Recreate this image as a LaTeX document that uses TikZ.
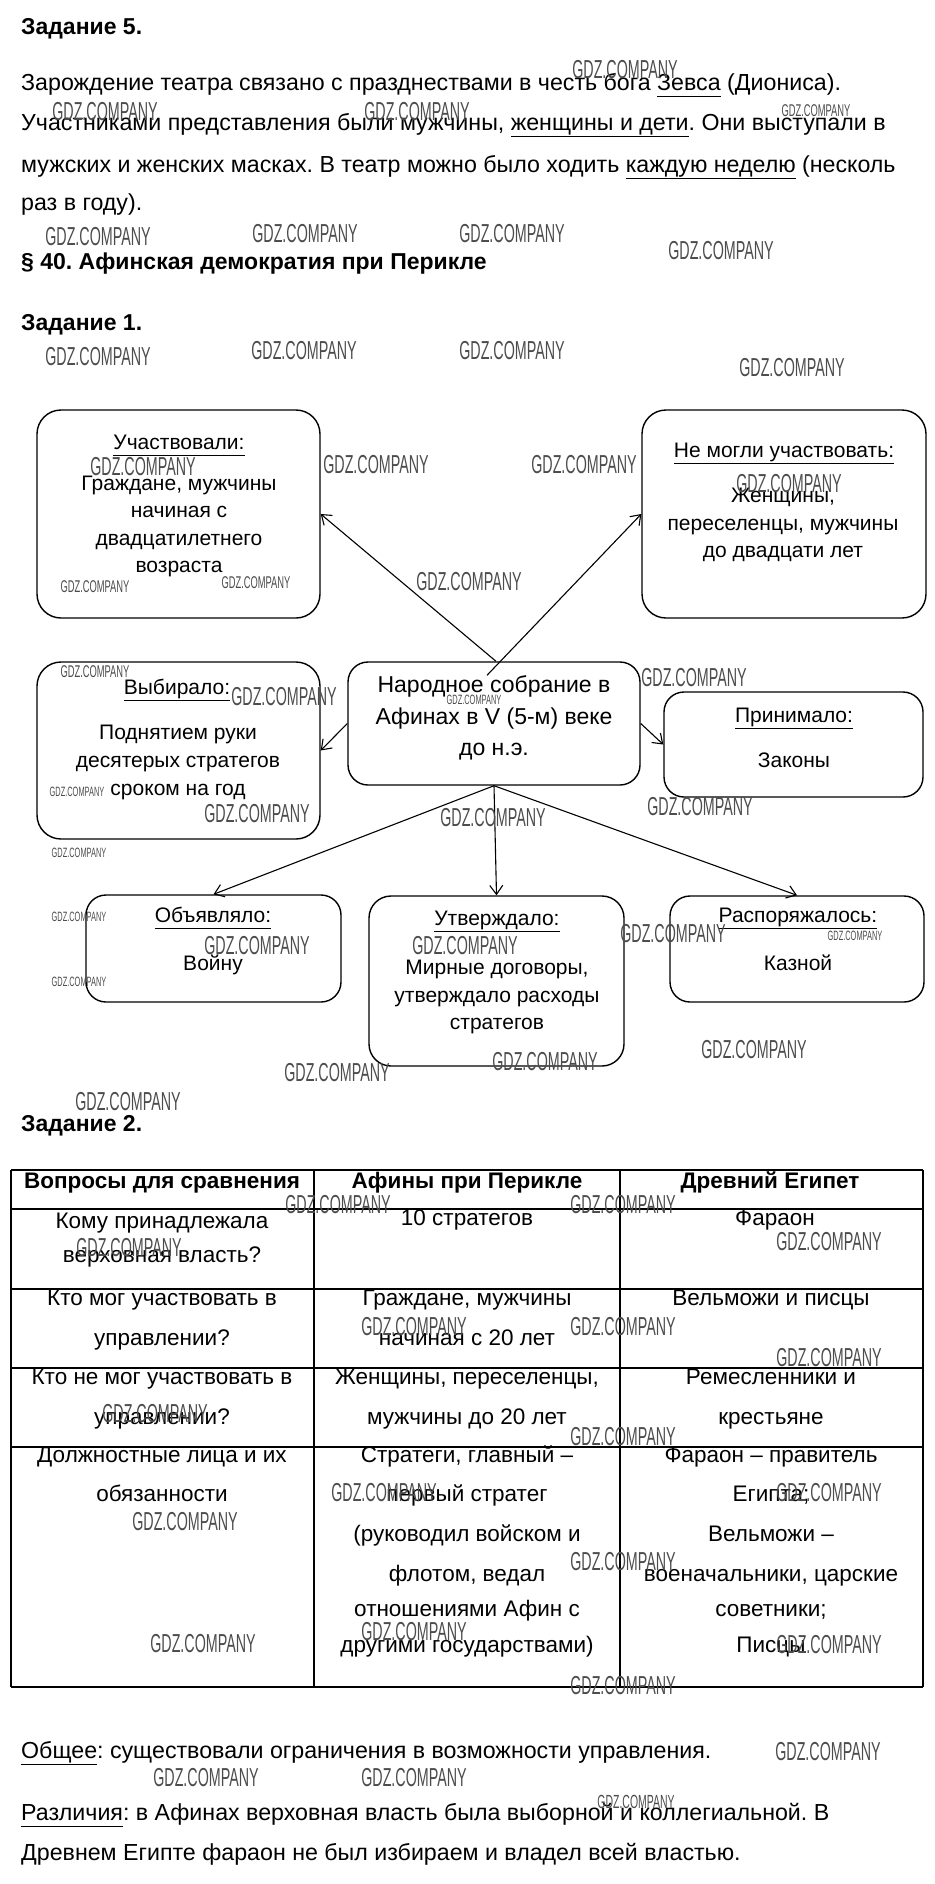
\documentclass[tikz,border=0pt]{standalone}
\usepackage{fontspec}
\setmainfont{Liberation Sans}
\newfontfamily\wmfont[FakeStretch=0.55]{Liberation Sans}
\newcommand\uln[1]{\leavevmode\setbox0\hbox{#1}\rlap{\copy0}\rule[-6.5pt]{\wd0}{1.4pt}}
\usetikzlibrary{arrows.meta}
\frenchspacing
\begin{document}
\begin{tikzpicture}[x=1pt,y=-1pt,
 body/.style={anchor=mid west, inner sep=0, font=\frenchspacing\fontsize{23.2}{27}\selectfont},
 ttl/.style={anchor=mid west, inner sep=0, font=\frenchspacing\bfseries\fontsize{23}{27}\selectfont},
 bl/.style={anchor=mid, inner sep=0, font=\fontsize{21}{25}\selectfont},
 cl/.style={anchor=mid, inner sep=0, font=\fontsize{23}{27}\selectfont},
 cell/.style={anchor=mid, inner sep=0, font=\fontsize{22.5}{26}\selectfont},
 hcell/.style={anchor=mid, inner sep=0, font=\bfseries\fontsize{22.5}{26}\selectfont},
 rbox/.style={draw, line width=1.4pt, rounded corners=#1, inner sep=0},
 rbox/.default=24pt,
 conn/.style={line width=1.1pt, -{Straight Barb[length=9pt,width=13pt,line width=1.1pt]}},
 grid/.style={line width=1.3pt},
 wm/.style={inner sep=0, text=black!70, font=\wmfont\fontsize{26}{26}\selectfont},
 wms/.style={inner sep=0, text=black!70, font=\wmfont\fontsize{17}{17}\selectfont},
 wmt/.style={inner sep=0, text=black!70, font=\wmfont\fontsize{13.5}{13.5}\selectfont},
]
\useasboundingbox (0,0) rectangle (934,1884);

% ---- Задание 5
\node[ttl] (h5) at (21,32) {Задание 5.};
\node[body] (p1) at (21,88) {Зарождение театра связано с празднествами в честь бога \uln{Зевса} (Диониса).};
\node[body] (p2) at (21,128) {Участниками представления были мужчины, \uln{женщины и дети}. Они выступали в};
\node[body] (p3) at (21,170) {мужских и женских масках. В театр можно было ходить \uln{каждую неделю} (несколь};
\node[body] (p4) at (21,208) {раз в году).};
\node[ttl] (h40) at (21,267) {§ 40. Афинская демократия при Перикле};
\node[ttl] (h1) at (21,328) {Задание 1.};

% ---- boxes
\node[rbox, minimum width=283pt, minimum height=208pt] (b1) at (178.5,514) {};
\node[rbox, minimum width=284pt, minimum height=208pt] (b2) at (784,514) {};
\node[rbox, minimum width=283pt, minimum height=177pt] (b3) at (178.5,750.5) {};
\node[rbox=20pt, minimum width=292pt, minimum height=123pt] (c) at (494,723.5) {};
\node[rbox=20pt, minimum width=259pt, minimum height=105pt] (b4) at (793.5,744.5) {};
\node[rbox=20pt, minimum width=255pt, minimum height=107pt] (b5) at (213.5,948.5) {};
\node[rbox=22pt, minimum width=255pt, minimum height=170pt] (b6) at (496.5,981) {};
\node[rbox=20pt, minimum width=254pt, minimum height=106pt] (b7) at (797,949) {};

% ---- box texts
\node[bl] (b1a) at (179,447) {\uln{Участвовали:}};
\node[bl] (b1b) at (179,488) {Граждане, мужчины};
\node[bl] (b1c) at (179,515) {начиная с};
\node[bl] (b1d) at (179,543) {двадцатилетнего};
\node[bl] (b1e) at (179,570) {возраста};

\node[bl] (b2a) at (784,455) {\uln{Не могли участвовать:}};
\node[bl] (b2b) at (783,500) {Женщины,};
\node[bl] (b2c) at (783,528) {переселенцы, мужчины};
\node[bl] (b2d) at (783,555) {до двадцати лет};

\node[bl] (b3a) at (177,692) {\uln{Выбирало:}};
\node[bl] (b3b) at (178,737) {Поднятием руки};
\node[bl] (b3c) at (178,765) {десятерых стратегов};
\node[bl] (b3d) at (178,793) {сроком на год};

\node[cl] (ca) at (494,690) {Народное собрание в};
\node[cl] (cb) at (494,722) {Афинах в V (5-м) веке};
\node[cl] (cc) at (494,753) {до н.э.};

\node[bl] (b4a) at (794,720) {\uln{Принимало:}};
\node[bl] (b4b) at (794,765) {Законы};

\node[bl] (b5a) at (213,920) {\uln{Объявляло:}};
\node[bl] (b5b) at (213,968) {Войну};

\node[bl] (b6a) at (497,923) {\uln{Утверждало:}};
\node[bl] (b6b) at (497,972) {Мирные договоры,};
\node[bl] (b6c) at (497,1000) {утверждало расходы};
\node[bl] (b6d) at (497,1027) {стратегов};

\node[bl] (b7a) at (798,920) {\uln{Распоряжалось:}};
\node[bl] (b7b) at (798,968) {Казной};

% ---- connectors
\draw[conn] ([xshift=2pt]c.north) -- (b1.east);
\draw[conn] ([xshift=-7pt,yshift=-14pt]c.north) -- (b2.west);
\draw[conn] (c.west) -- (b3.east);
\draw[conn] (c.east) -- (b4.west);
\draw[conn] (c.south) -- (b5.north);
\draw[conn] (c.south) -- (b6.north);
\draw[conn] (c.south) -- (b7.north);

% ---- Задание 2
\node[ttl] (h2) at (21,1129) {Задание 2.};
\foreach \yy in {1170,1209,1289,1368,1447,1687} \draw[grid] (11,\yy) -- (923,\yy);
\foreach \xx in {11,314,620,923} \draw[grid] (\xx,1170) -- (\xx,1687);

\node[hcell] (t01) at (162,1186) {Вопросы для сравнения};
\node[hcell] (t02) at (467,1186) {Афины при Перикле};
\node[hcell] (t03) at (770,1186) {Древний Египет};

\node[cell] (t11) at (162,1226) {Кому принадлежала};
\node[cell] (t12) at (162,1260) {верховная власть?};
\node[cell] (t13) at (467,1223) {10 стратегов};
\node[cell] (t14) at (775,1223) {Фараон};

\node[cell] (t21) at (162,1303) {Кто мог участвовать в};
\node[cell] (t22) at (162,1343) {управлении?};
\node[cell] (t23) at (467,1303) {Граждане, мужчины};
\node[cell] (t24) at (467,1343) {начиная с 20 лет};
\node[cell] (t25) at (771,1303) {Вельможи и писцы};

\node[cell] (t31) at (162,1382) {Кто не мог участвовать в};
\node[cell] (t32) at (162,1422) {управлении?};
\node[cell] (t33) at (467,1382) {Женщины, переселенцы,};
\node[cell] (t34) at (467,1422) {мужчины до 20 лет};
\node[cell] (t35) at (771,1382) {Ремесленники и};
\node[cell] (t36) at (771,1422) {крестьяне};

\node[cell] (t41) at (162,1460) {Должностные лица и их};
\node[cell] (t42) at (162,1499) {обязанности};
\node[cell] (t43) at (467,1460) {Стратеги, главный –};
\node[cell] (t44) at (467,1499) {первый стратег};
\node[cell] (t45) at (467,1539) {(руководил войском и};
\node[cell] (t46) at (467,1579) {флотом, ведал};
\node[cell] (t47) at (467,1614) {отношениями Афин с};
\node[cell] (t48) at (467,1650) {другими государствами)};
\node[cell] (t49) at (771,1460) {Фараон – правитель};
\node[cell] (t50) at (771,1499) {Египта;};
\node[cell] (t51) at (771,1539) {Вельможи –};
\node[cell] (t52) at (771,1579) {военачальники, царские};
\node[cell] (t53) at (771,1614) {советники;};
\node[cell] (t54) at (771,1650) {Писцы};

% ---- bottom text
\node[body] (q1) at (21,1756) {\uln{Общее}: существовали ограничения в возможности управления.};
\node[body] (q2) at (21,1818) {\uln{Различия}: в Афинах верховная власть была выборной и коллегиальной. В};
\node[body] (q3) at (21,1858) {Древнем Египте фараон не был избираем и владел всей властью.};

% ---- watermarks
\foreach \x/\y [count=\i] in {625/70,105/112,417/112,98/237,305/234,512/234,721/251,
  98/357,304/351,512/351,792/368,143/467,376/465,584/465,789/484,469/582,
  284/697,694/678,257/814,493/818,700/807,257/946,465/946,673/934,
  545/1062,337/1073,754/1050,128/1102,338/1205,623/1205,129/1248,829/1242,
  414/1327,623/1327,829/1358,155/1414,623/1437,185/1522,384/1493,623/1562,829/1493,
  203/1644,414/1632,829/1645,623/1686,828/1752,206/1778,414/1778}
  {\node[wm] (w\i) at (\x,\y) {GDZ.COMPANY};}
\foreach \x/\y [count=\i] in {816/111,95/587,256/583,95/672}
  {\node[wms] (ws\i) at (\x,\y) {GDZ.COMPANY};}
\node[wms, font=\wmfont\fontsize{19}{19}\selectfont] (ws5) at (636,1802) {GDZ.COMPANY};
\foreach \x/\y [count=\i] in {474/700,77/792,79/853,79/917,855/936,79/982}
  {\node[wmt] (wt\i) at (\x,\y) {GDZ.COMPANY};}
\end{tikzpicture}
\end{document}
